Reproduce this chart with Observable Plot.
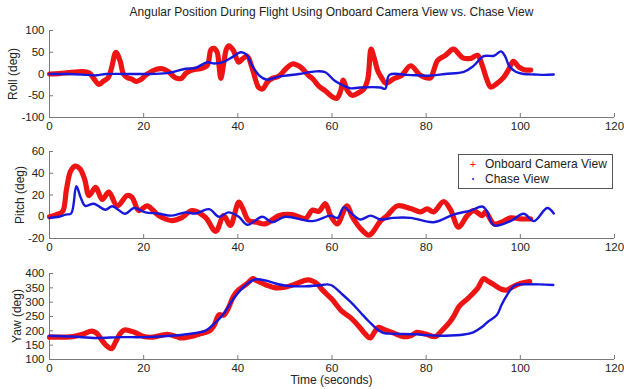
<!DOCTYPE html>
<html>
<head>
<meta charset="utf-8">
<script src="https://cdn.jsdelivr.net/npm/d3@7"></script>
<script src="https://cdn.jsdelivr.net/npm/@observablehq/plot@0.6"></script>
<style>
  html, body { margin: 0; padding: 0; background: #fff; }
  #wrap { position: relative; width: 624px; height: 389px; overflow: hidden; background: #fff;
          font-family: "Liberation Sans", Arial, sans-serif; color: #222; }
  .abs { position: absolute; }
  .lbl { font-size: 12px; line-height: 16px; white-space: nowrap; }
  .ylab { transform: translate(-50%, -50%) rotate(-90deg); }
  #legend { position: absolute; left: 458px; top: 154px; width: 153px; height: 33px;
            border: 1px solid #555; background: #fff; font-size: 12px; }
  #legend .row { position: absolute; left: 0; height: 16px; line-height: 16px; }
  #legend .mk { position: absolute; left: 9px; width: 10px; text-align: center; }
  #legend .tx { position: absolute; left: 26px; white-space: nowrap; }
</style>
</head>
<body>
<div id="wrap"></div>
<script>
// ---------- data ----------
const xTicks = [0, 20, 40, 60, 80, 100, 120];
const rollTicks = [-100, -50, 0, 50, 100];
const pitchTicks = [-20, 0, 20, 40, 60];
const yawTicks = [100, 150, 200, 250, 300, 350, 400];

// Roll — onboard camera view
const rollOnT = [0, 2, 4, 6, 7.5, 8.5, 9.5, 10.5, 11.5, 12.5, 13.2, 14.1, 15, 15.7, 16.5, 17.5, 18.5, 19.5, 20.5, 22.5, 24, 25.2, 26.8, 28, 29, 30.5, 32, 33.5, 34.3, 34.9, 35.6, 36, 36.4, 37, 37.6, 38.1, 39, 40.2, 41, 42, 43, 44.5, 45.3, 46.3, 47.3, 48.7, 50.2, 51.6, 53.3, 55, 56, 57.2, 58.5, 60, 61, 61.8, 62.4, 63.2, 64.3, 65.5, 66.8, 67.6, 68.3, 69, 69.8, 70.5, 71.4, 73.1, 74.8, 76.7, 78.8, 80.9, 81.6, 82.4, 84, 85.8, 87, 87.8, 89.5, 90.9, 91.9, 92.8, 93.7, 95, 96.5, 97.5, 98.5, 99.7, 100.8, 102.2];
const rollOn = [0, 1, 3, 5, 5, 2, -12, -24, -16, -8, 15, 50, 30, 0, -8, -12, -17, -12, -2, 10, 12, 6, -9, -10, 2, 10, 12, 20, 56, 59, 50, 20, -10, 25, 58, 65, 55, 27, 35, 41, 15, -32, -34, -18, -10, -5, 12, 23, 16, -3, -12, -28, -38, -52, -56, -40, -14, -37, -49, -44, -34, -12, 57, 35, 5, -8, -21, -11, -3, 19, -3, -9, 8, 31, 42, 57, 45, 37, 36, 43, 20, -10, -30, -22, -7, 10, 29, 16, 10, 9];

// Roll — chase view
const rollChT = [0, 4, 8, 10, 12, 16, 20, 25, 28.9, 31, 33.5, 35, 37, 39, 40.6, 41.8, 43, 44.5, 46.2, 48.7, 53, 56.5, 58.6, 60.5, 62.5, 64, 66, 70.3, 71.3, 72.2, 76, 80.2, 84, 88, 90, 92.2, 94.4, 95.9, 96.8, 97.6, 99, 100.7, 103, 105, 107.1];
const rollCh = [0, 0, -2, -3, 0, 0, 0, 2, 12, 14, 27, 24, 28, 40, 50, 45, 20, -3, -13, -6, 0, 6, 4, -15, -27, -33, -31, -31, -34, -2, -2, -4, 0, 5, 18, 41, 42, 52, 40, 19, 5, 0, -1, -2, -1];

// Pitch — onboard camera view
const pitchOnT = [0, 1.5, 2.8, 3.6, 4.5, 5.5, 6.5, 7.5, 8.4, 9.8, 11.2, 12.6, 14.4, 16.5, 17.5, 19, 20.7, 22, 23.2, 26, 28, 30.3, 33.1, 35.3, 37, 38.4, 40.2, 41, 42.3, 44, 45.8, 48.7, 51.5, 54.4, 55.8, 57.2, 58.6, 59.7, 61.1, 63.2, 64.3, 66.1, 67.8, 68.5, 70.3, 71.7, 73.9, 76.7, 78.8, 80.2, 81.6, 83.7, 85.1, 86.9, 88.7, 90.1, 91.9, 92.6, 94.4, 96, 97.9, 100, 102.2];
const pitchOn = [0, 2, 5, 25, 42, 46.5, 44, 34, 19.5, 27, 16, 22.6, 10, 19.5, 18, 5.7, 10, 6, 1, -3.5, -1, 5.7, -0.4, -13.5, 1, -8, 13.4, 8, -3.5, -5, -6.6, 1, 2, -1.5, 6, 5, 12, 1, -6.5, 10, 0, -11, -17, -15, -4, 1, 10, 7.6, 4.5, 7.3, 4.5, 14, 7, -9.6, 1, 5.7, 1, 4.5, -6.5, -5, -1, -2, -2];

// Pitch — chase view
const pitchChT = [0, 2, 3.4, 4.6, 5.7, 6.6, 7.6, 9.4, 11.9, 13.3, 16.1, 17.9, 20.4, 23, 26, 28.9, 31, 33.9, 36, 38, 40.2, 42, 45.2, 47.3, 50.1, 55.8, 59.7, 61.2, 62.5, 63.9, 66, 68.2, 70.3, 73, 76.7, 81.6, 85.8, 89.4, 91.9, 92.8, 94.4, 97.9, 100.7, 102.9, 105.7, 107.1];
const pitchCh = [-1, 0, 2, 3, 28, 18, 10, 12, 6.4, 9.7, 2.7, 8, 4, 3, 1, 4, 3, 7, 0, 4, 0, -7.4, 0, -5, 0, -4, 1, -1, 8.8, 4, -2.5, 1, -2.5, -1, -1, -5, 2, 5.7, 9.4, 6, -8, -4, 2.7, -4, 8, 3];

// Yaw — onboard camera view
const yawOnT = [0, 5, 7, 9, 10, 11, 12, 13.2, 14, 15, 15.9, 18, 20, 22, 24, 25, 27, 28, 30, 32, 34, 35, 36, 37, 38, 39, 40, 42, 43.2, 44, 46, 48, 50, 52, 54, 55, 56, 57, 58, 60, 62, 64, 66, 67, 68.1, 69, 69.8, 71, 73, 75, 76, 77, 78, 79, 80, 82, 83, 85, 86, 87, 89, 91, 92.2, 93, 94, 96, 97, 98, 100, 102];
const yawOn = [178, 180, 188, 199, 192, 170, 150, 138, 160, 190, 203, 195, 180, 178, 185, 188, 180, 175, 180, 190, 200, 220, 256, 255, 280, 318, 340, 365, 382, 375, 360, 350, 352, 362, 375, 378, 373, 362, 342, 310, 270, 245, 210, 190, 175, 195, 212, 205, 193, 180, 180, 185, 195, 192, 188, 180, 195, 230, 255, 285, 315, 350, 382, 375, 365, 345, 342, 350, 365, 372];

// Yaw — chase view
const yawChT = [0, 5, 10, 15, 20, 25, 30, 33, 35, 37, 39, 41, 43, 44, 46, 48, 50, 54, 57, 59, 60, 62, 64, 66, 68, 70, 71, 73, 78, 80, 84, 88, 90, 92, 93, 95, 96, 97, 98, 99, 100, 104, 107];
const yawCh = [183, 180, 175, 178, 178, 182, 190, 200, 225, 260, 310, 350, 375, 380, 375, 365, 358, 355, 358, 362, 358, 330, 300, 265, 230, 200, 192, 190, 188, 185, 183, 187, 195, 215, 230, 255, 290, 320, 345, 360, 362, 362, 360];

// ---------- drawing ----------
const RED = "#ee1414";
const BLUE = "#1818dc";
const AXIS = "#7a7a7a";
const rows = (ts, vs) => ts.map((t, i) => ({t, v: vs[i]}));

const wrap = document.getElementById("wrap");

function panel({top, mt, inner, mb, domain, ticks, on, ch}) {
  const W = 624, ML = 49, MR = 10;
  const innerW = W - ML - MR;
  const svg = Plot.plot({
    width: W,
    height: mt + inner + mb,
    marginLeft: ML, marginRight: MR, marginTop: mt, marginBottom: mb,
    style: {fontFamily: "'Liberation Sans', Arial, sans-serif", fontSize: "11.5px", color: "#222", background: "transparent", overflow: "visible"},
    x: {domain: [0, 120]},
    y: {domain},
    marks: [
      Plot.axisX({ticks: xTicks, tickSize: 0, tickPadding: 4, label: null, tickFormat: d => String(d)}),
      Plot.axisY({ticks, tickSize: 0, tickPadding: 5, label: null, tickFormat: d => String(d)}),
      Plot.tickX(xTicks, {x: d => d, stroke: AXIS, insetTop: inner - 4}),
      Plot.tickY(ticks, {y: d => d, stroke: AXIS, insetRight: innerW - 4}),
      Plot.ruleX([0], {stroke: AXIS}),
      Plot.ruleY([domain[0]], {stroke: AXIS}),
      Plot.line(on, {x: "t", y: "v", stroke: RED, strokeWidth: 5.2, curve: "catmull-rom", strokeLinejoin: "round"}),
      Plot.line(ch, {x: "t", y: "v", stroke: BLUE, strokeWidth: 2.4, curve: "catmull-rom", strokeLinejoin: "round"})
    ]
  });
  svg.style.position = "absolute";
  svg.style.left = "0px";
  svg.style.top = top + "px";
  wrap.appendChild(svg);
}

panel({top: 18, mt: 12, inner: 87, mb: 22, domain: [-100, 100], ticks: rollTicks,
       on: rows(rollOnT, rollOn), ch: rows(rollChT, rollCh)});
panel({top: 139, mt: 12, inner: 87, mb: 22, domain: [-20, 60], ticks: pitchTicks,
       on: rows(pitchOnT, pitchOn), ch: rows(pitchChT, pitchCh)});
panel({top: 260, mt: 13, inner: 86, mb: 22, domain: [100, 400], ticks: yawTicks,
       on: rows(yawOnT, yawOn), ch: rows(yawChT, yawCh)});

function addText(text, css, cls) {
  const d = document.createElement("div");
  d.className = "abs lbl " + (cls || "");
  d.textContent = text;
  Object.assign(d.style, css);
  wrap.appendChild(d);
  return d;
}
addText("Angular Position During Flight Using Onboard Camera View vs. Chase View",
        {left: "49px", width: "565px", top: "4px", textAlign: "center"});
addText("Time (seconds)", {left: "49px", width: "565px", top: "372px", textAlign: "center"});
addText("Roll (deg)", {left: "13px", top: "74px"}, "ylab");
addText("Pitch (deg)", {left: "20px", top: "195px"}, "ylab");
addText("Yaw (deg)", {left: "17px", top: "316px"}, "ylab");

// legend
const legendItems = [
  {label: "Onboard Camera View", marker: "+", color: RED},
  {label: "Chase View", marker: "•", color: BLUE}
];
const lg = document.createElement("div");
lg.id = "legend";
legendItems.forEach((it, i) => {
  const r = document.createElement("div");
  r.className = "row";
  r.style.top = (1 + i * 15) + "px";
  const m = document.createElement("span");
  m.className = "mk";
  m.textContent = it.marker;
  m.style.color = it.color;
  m.style.fontSize = i === 0 ? "11px" : "7px";
  const t = document.createElement("span");
  t.className = "tx";
  t.textContent = it.label;
  r.appendChild(m); r.appendChild(t);
  lg.appendChild(r);
});
wrap.appendChild(lg);
</script>
</body>
</html>
